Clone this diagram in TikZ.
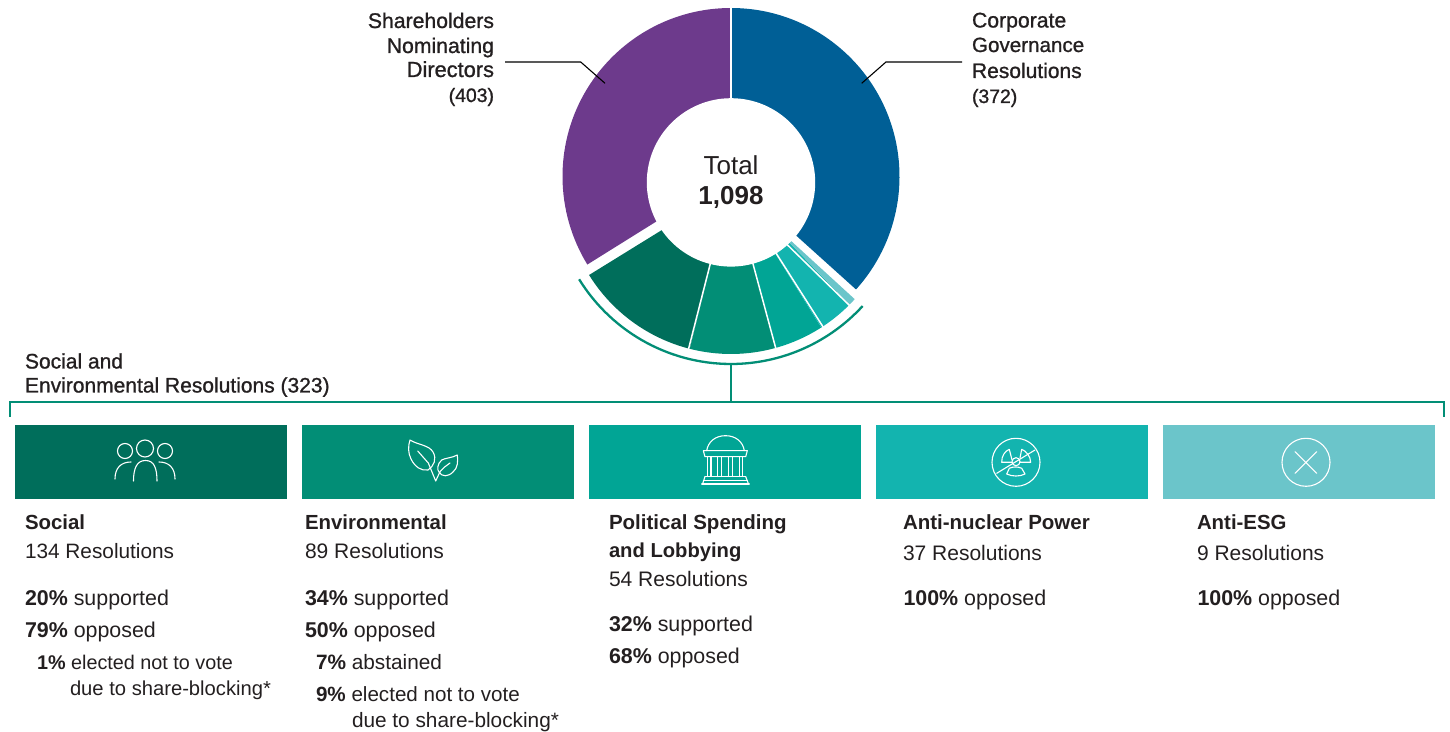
\documentclass[tikz,border=0pt]{standalone}
\usepackage{fontspec}
\setmainfont{Liberation Sans}
\newfontfamily\med[FakeBold=1]{Liberation Sans}
\definecolor{cblue}{HTML}{005F96}
\definecolor{cpurple}{HTML}{6D3A8C}
\definecolor{cA}{HTML}{006E5B}
\definecolor{cB}{HTML}{028E76}
\definecolor{cC}{HTML}{01A595}
\definecolor{cD}{HTML}{13B4AF}
\definecolor{cE}{HTML}{6BC5CA}
\definecolor{txt}{HTML}{231F20}
\newcounter{tc}
\newcommand{\T}[4][21]{\stepcounter{tc}\node[lab] (t\arabic{tc}) at (#2,731-#3) {\fontsize{#1}{#1}\selectfont #4};}
\tikzset{
  lab/.style={anchor=base west,inner sep=0pt,outer sep=0pt,text=txt},
  tbox/.style={anchor=south west,minimum width=272pt,minimum height=73.5pt,inner sep=0,outer sep=0},
  icon/.style={draw=white,line width=1.1pt,fill=none,line cap=round,line join=round},
  leader/.style={draw=black,line width=1.1pt},
  brk/.style={draw=cB,line width=2.3pt},
  sep/.style={draw=white,line width=1.5pt}
}
\begin{document}
\begin{tikzpicture}[x=1pt,y=1pt]
\useasboundingbox (0,0) rectangle (1450,731);
% donut: upper sectors
\fill[cblue] (731,554.5) ++(89.6:168.5) arc (89.6:-42.1:168.5) -- (770,519) -- (732,581) -- cycle;
\fill[cpurple] (731,554.5) ++(90.4:168.5) arc (90.4:211.5:168.5) -- (656,509.3) -- (690,531) -- (730,581) -- cycle;
% donut: lower sectors
\coordinate (cc) at (731,548.6);
\fill[cA] (731,544) ++(211.8:167) arc (211.8:255.7:167) -- (cc) -- (700,524.5) -- cycle;
\fill[cB] (731,544) ++(255.7:167) arc (255.7:285.5:167) -- (cc) -- cycle;
\fill[cC] (731,544) ++(285.5:167) arc (285.5:302.7:167) -- (cc) -- cycle;
\fill[cD] (731,544) ++(302.7:167) arc (302.7:315.2:167) -- (cc) -- cycle;
\fill[cE] (731,544) ++(315.2:167) arc (315.2:317.8:167) -- (760,518.5) -- (cc) -- cycle;
\draw[sep] (cc) -- +(255.7:175);
\draw[sep] (cc) -- +(285.1:175);
\draw[sep] (cc) -- +(302.5:175);
\draw[sep] (724,548) -- (850,425);
\fill[white] (731,548.6) circle (84.2);
\node[inner sep=0] (total) at (731,566) {\fontsize{26}{26}\selectfont\color{txt}Total};
\node[inner sep=0] (num) at (731,534) {\fontsize{26}{26}\selectfont\bfseries\color{txt}1,098};
% bracket
\draw[brk] (731,545.5) ++(211.7:178.5) arc (211.7:317.5:178.5);
\coordinate (bt) at (730.7,367);
\coordinate (bb) at (730.7,329.3);
\coordinate (bl) at (10,314);
\coordinate (blc) at (10,329.3);
\coordinate (brc) at (1444,329.3);
\coordinate (br) at (1444,314);
\draw[brk] (bt) -- (bb);
\draw[brk,line join=miter] (bl) -- (blc) -- (brc) -- (br);
% leaders
\coordinate (l1) at (505,669);
\coordinate (l2) at (580.7,669);
\coordinate (l3) at (605,647.7);
\draw[leader] (l1) -- (l2) -- (l3);
\coordinate (r1) at (962,669);
\coordinate (r2) at (886,669);
\coordinate (r3) at (861.7,647.7);
\draw[leader] (r1) -- (r2) -- (r3);
% leader labels
\node[lab,anchor=base east] (s1) at (494,731-28) {\med\fontsize{21.2}{21}\selectfont Shareholders};
\node[lab,anchor=base east] (s2) at (494,731-53) {\med\fontsize{21.2}{21}\selectfont Nominating};
\node[lab,anchor=base east] (s3) at (494,731-77) {\med\fontsize{21.8}{21}\selectfont Directors};
\node[lab,anchor=base east] (s4) at (494,731-102) {\med\fontsize{19.4}{21}\selectfont (403)};
\T[21.2]{972}{27.5}{\med Corporate}
\T[20.6]{972}{52}{\med Governance}
\T[21]{972}{78}{\med Resolutions}
\T[19.4]{972}{103}{\med (372)}
\T{25}{368.5}{\med Social and}
\T{25}{392.5}{\med Environmental Resolutions (323)}
% boxes
\node[tbox,fill=cA] (b1) at (15.4,232) {};
\node[tbox,fill=cB] (b2) at (302.4,232) {};
\node[tbox,fill=cC] (b3) at (589.4,232) {};
\node[tbox,fill=cD] (b4) at (876.4,232) {};
\node[tbox,fill=cE] (b5) at (1163.4,232) {};
% icons
\begin{scope}[shift={(0,731)},y=-1pt]
% people
\draw[icon] (125,451) circle (7.5);
\draw[icon] (145,448.5) circle (8.5);
\draw[icon] (165,451) circle (7.5);
\draw[icon] (115,479) .. controls (115,468) and (121,462) .. (131,462);
\draw[icon] (133.5,481) .. controls (133.5,468) and (137,460.5) .. (145.5,460.5) .. controls (154,460.5) and (157,468) .. (157,481);
\draw[icon] (159,462) .. controls (169,462) and (175,468) .. (175,479);
% leaves
\draw[icon] (410,440) .. controls (418,445) and (429,445) .. (433,452) .. controls (437,459) and (434,466) .. (428,470) .. controls (421,471) and (415,467) .. (411,459) .. controls (408,453) and (408,446) .. (410,440) -- cycle;
\draw[icon] (417.7,451) -- (428.3,463) -- (435.7,481) -- (440,471.7) -- (445,466.7) -- (450,463);
\draw[icon] (457.3,455) .. controls (452,458) and (445,458) .. (441.7,460) .. controls (437,464) and (437,470) .. (439,472) .. controls (442,477) and (448,477) .. (453,472) .. controls (458,468) and (458,461) .. (457.3,455) -- cycle;
% capitol
\draw[icon] (706.7,450.7) .. controls (708,442) and (715,435.7) .. (725.5,435.7) .. controls (736,435.7) and (743,442) .. (744.3,450.7);
\draw[icon] (703.3,450.7) -- (747.3,450.7) -- (745.7,456.7) -- (705,456.7) -- cycle;
\draw[icon] (707.7,457) -- (707.7,476.7) (711,457) -- (711,476.7) (717.7,457) -- (717.7,476.7) (721.7,457) -- (721.7,476.7) (728.3,457) -- (728.3,476.7) (732.3,457) -- (732.3,476.7) (739.3,457) -- (739.3,476.7) (742.7,457) -- (742.7,476.7);
\draw[icon] (705,476.7) -- (745.7,476.7);
\draw[icon] (703.5,480.3) -- (747.2,480.3);
\draw[icon] (705,476.7) -- (702.5,484) (745.7,476.7) -- (748.5,484);
\draw[icon] (701.7,484) -- (749.3,484);
% nuclear
\draw[icon] (1016,462.3) circle (24);
\draw[icon] (1016,461.7) circle (4);
\draw[icon] (996.7,473.3) -- (1035,450);
\draw[icon] (1012,460) -- (1009.3,449.3) .. controls (1005,451) and (1001.5,456) .. (1001.7,462.3) -- (1012,462.3);
\draw[icon] (1020,458) -- (1021.7,449.3) .. controls (1026,451) and (1030.5,456) .. (1030.7,462.3) -- (1020,462.3);
\draw[icon] (1009.3,468.3) .. controls (1013,466.5) and (1018,466.5) .. (1021.7,468.3) -- (1025,474) .. controls (1020,476.7) and (1012,476.7) .. (1006.7,474) -- cycle;
% X
\draw[icon] (1306,462.3) circle (24);
\draw[icon] (1295,451.7) -- (1316.7,473.3) (1316.7,451.7) -- (1295,473.3);
\end{scope}
% column 1
\T[20.4]{25}{530}{\bfseries Social}
\T[20.8]{25}{559}{134 Resolutions}
\T[21.4]{25}{605}{\textbf{20\%} supported}
\T[21.4]{25}{637}{\textbf{79\%} opposed}
\T[19.8]{37}{669}{\textbf{1\%} elected not to vote}
\T[20.2]{70}{695}{due to share-blocking*}
% column 2
\T[20.4]{305}{530}{\bfseries Environmental}
\T[21]{305}{559}{89 Resolutions}
\T[21.4]{305}{605}{\textbf{34\%} supported}
\T[21.4]{305}{637}{\textbf{50\%} opposed}
\T[20.8]{316}{669}{\textbf{7\%} abstained}
\T[20.6]{316}{701}{\textbf{9\%} elected not to vote}
\T[20.8]{352}{727}{due to share-blocking*}
% column 3
\T[20.5]{609}{530}{\bfseries Political Spending}
\T[20.2]{609}{557}{\bfseries and Lobbying}
\T[21]{609}{586}{54 Resolutions}
\T[21.4]{609}{631}{\textbf{32\%} supported}
\T[21.4]{609}{663}{\textbf{68\%} opposed}
% column 4
\T[20.5]{903}{530}{\bfseries Anti-nuclear Power}
\T[21]{903}{560}{37 Resolutions}
\T[21.4]{903.5}{605}{\textbf{100\%} opposed}
% column 5
\T[20.4]{1197}{530}{\bfseries Anti-ESG}
\T[21]{1197}{560}{9 Resolutions}
\T[21.4]{1197.5}{605}{\textbf{100\%} opposed}
\end{tikzpicture}
\end{document}
